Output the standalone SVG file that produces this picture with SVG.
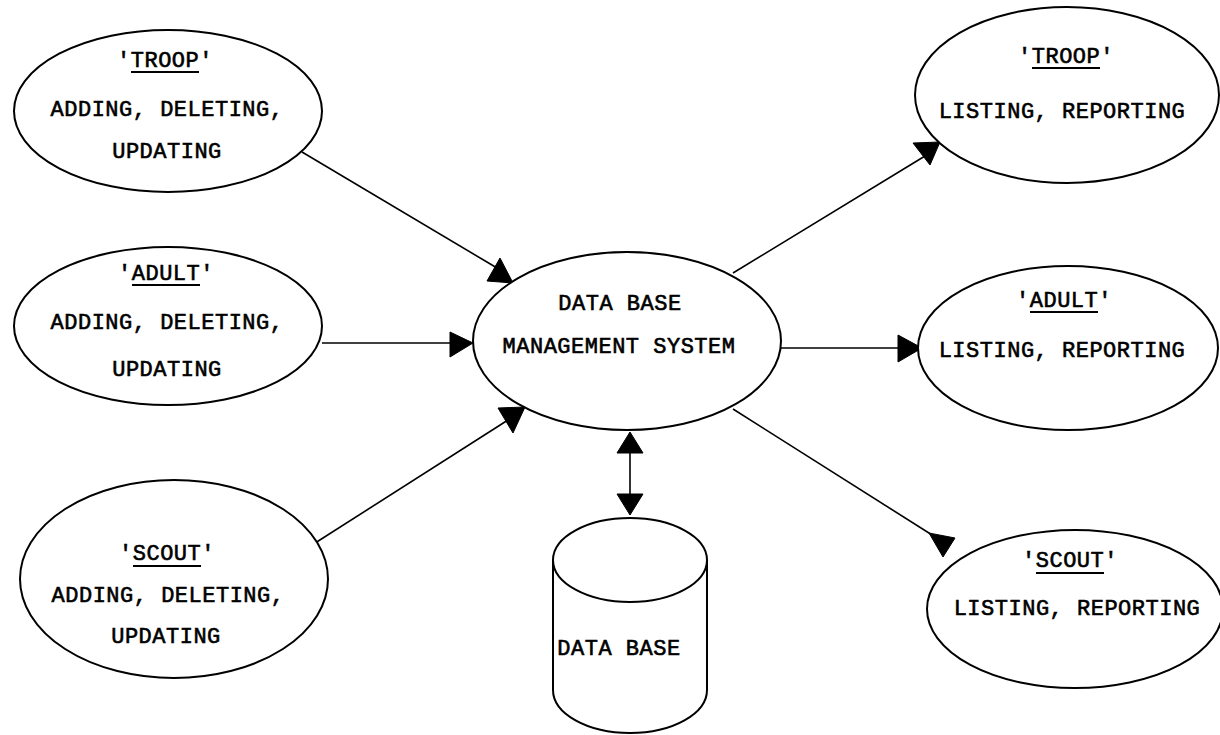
<svg xmlns="http://www.w3.org/2000/svg" width="1220" height="735" viewBox="0 0 1220 735">
<style>
.shape{fill:#fff;stroke:#000;stroke-width:2}
.ln{stroke:#000;stroke-width:1.6;fill:none}
.ul{stroke:#000;stroke-width:2}
.head{fill:#000;stroke:#000;stroke-width:1;stroke-linejoin:round}
text{font-family:"Liberation Mono","DejaVu Sans Mono",monospace;font-size:22px;letter-spacing:0.5px;fill:#000;stroke:#000;stroke-width:0.6;text-anchor:middle}
</style>
<rect width="1220" height="735" fill="#fff"/>
<g id="connectors">
<line class="ln" x1="302" y1="152" x2="497" y2="268"/>
<polygon class="head" points="500,258 487,281 513,283"/>
<line class="ln" x1="322" y1="343" x2="452" y2="343"/>
<polygon class="head" points="450,332 450,357 473,343"/>
<line class="ln" x1="312" y1="545" x2="508" y2="420"/>
<polygon class="head" points="498,408 525,407 513,433"/>
<line class="ln" x1="733" y1="273" x2="925" y2="156"/>
<polygon class="head" points="913,143 940,142 930,165"/>
<line class="ln" x1="781" y1="348" x2="900" y2="348"/>
<polygon class="head" points="898,335 898,362 922,348"/>
<line class="ln" x1="733" y1="409" x2="940" y2="540"/>
<polygon class="head" points="929,533 955,538 943,557"/>
<line class="ln" x1="630" y1="450" x2="630" y2="497"/>
<polygon class="head" points="630,432 617,453 643,453"/>
<polygon class="head" points="617,494 643,494 630,515"/>
</g>
<g id="troop-update">
<ellipse class="shape" cx="168" cy="111" rx="154" ry="81"/>
<text x="165" y="67">'TROOP'</text>
<line class="ul" x1="131" y1="72" x2="199" y2="72"/>
<text x="167" y="116">ADDING, DELETING,</text>
<text x="167" y="158">UPDATING</text>
</g>
<g id="adult-update">
<ellipse class="shape" cx="168" cy="326" rx="154" ry="79"/>
<text x="166" y="280">'ADULT'</text>
<line class="ul" x1="132" y1="285" x2="200" y2="285"/>
<text x="167" y="329">ADDING, DELETING,</text>
<text x="167" y="376">UPDATING</text>
</g>
<g id="scout-update">
<ellipse class="shape" cx="174" cy="579" rx="154" ry="99"/>
<text x="167" y="560">'SCOUT'</text>
<line class="ul" x1="133" y1="566" x2="201" y2="566"/>
<text x="168" y="602">ADDING, DELETING,</text>
<text x="166" y="643">UPDATING</text>
</g>
<g id="dbms">
<ellipse class="shape" cx="627" cy="341" rx="154" ry="89"/>
<text x="620" y="310">DATA BASE</text>
<text x="619" y="353">MANAGEMENT SYSTEM</text>
</g>
<g id="database">
<path class="shape" d="M553,560 L553,690 A77,43 0 0 0 707,690 L707,560"/>
<ellipse class="shape" cx="630" cy="560" rx="77" ry="42"/>
<text x="619" y="655">DATA BASE</text>
</g>
<g id="troop-report">
<ellipse class="shape" cx="1067" cy="95" rx="152" ry="88"/>
<text x="1066" y="63">'TROOP'</text>
<line class="ul" x1="1032" y1="68" x2="1100" y2="68"/>
<text x="1062" y="118">LISTING, REPORTING</text>
</g>
<g id="adult-report">
<ellipse class="shape" cx="1068" cy="348" rx="150" ry="82"/>
<text x="1064" y="307">'ADULT'</text>
<line class="ul" x1="1030" y1="312" x2="1098" y2="312"/>
<text x="1062" y="357">LISTING, REPORTING</text>
</g>
<g id="scout-report">
<ellipse class="shape" cx="1075" cy="609" rx="148" ry="79"/>
<text x="1070" y="567">'SCOUT'</text>
<line class="ul" x1="1036" y1="573" x2="1104" y2="573"/>
<text x="1077" y="615">LISTING, REPORTING</text>
</g>
</svg>
